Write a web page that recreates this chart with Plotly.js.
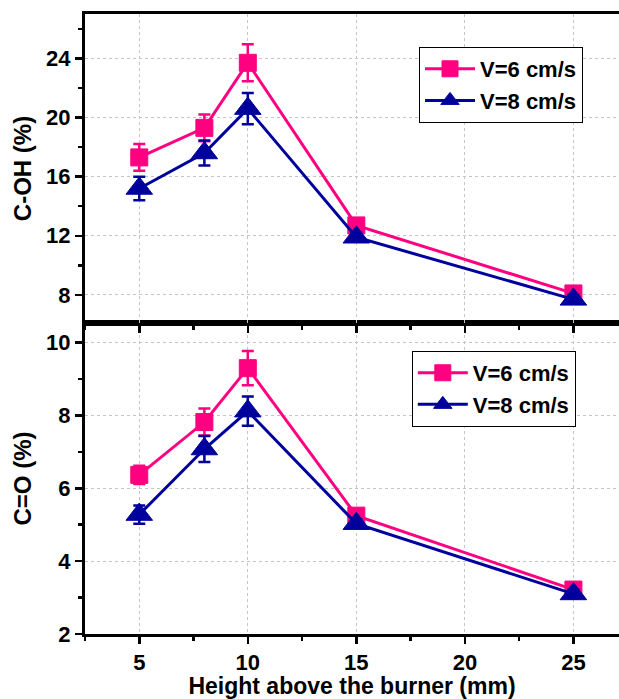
<!DOCTYPE html>
<html>
<head>
<meta charset="utf-8">
<script src="https://cdn.plot.ly/plotly-3.0.1.min.js"></script>
<style>html,body{margin:0;padding:0;background:#fff;}#chart{width:619px;height:699px;}</style>
</head>
<body>
<div id="chart"></div>
<script>
// Data
var heights = [5, 8, 10, 15, 25];
var cohV6 = [17.3, 19.3, 23.7, 12.7, 8.1];
var cohV6Err = [0.9, 0.9, 1.25, 0.35, 0.3];
var cohV8 = [15.2, 17.6, 20.6, 11.9, 7.7];
var cohV8Err = [0.8, 0.85, 1.05, 0.3, 0.3];
var coV6 = [6.37, 7.82, 9.30, 5.25, 3.22];
var coV6Err = [0.25, 0.37, 0.47, 0.15, 0.12];
var coV8 = [5.28, 7.08, 8.12, 5.03, 3.10];
var coV8Err = [0.25, 0.36, 0.40, 0.12, 0.12];
var seriesNames = ['V=6 cm/s', 'V=8 cm/s'];
var xTicks = [5, 10, 15, 20, 25];
var cohTicks = [8, 12, 16, 20, 24];
var coTicks = [2, 4, 6, 8, 10];

var PINK = '#FF0080', NAVY = '#00009C';

function tr(x, y, err, name, color, sym, size, xa, ya, leg) {
  return {
    x: x, y: y, name: name, type: 'scatter', mode: 'lines+markers',
    xaxis: xa, yaxis: ya, legend: leg,
    line: {color: color, width: 3},
    marker: {symbol: sym, size: size, color: color, line: {color: color, width: 1}},
    error_y: {type: 'data', array: err, visible: true, color: color, thickness: 2.5, width: 6}
  };
}

var data = [
  tr(heights, cohV6, cohV6Err, seriesNames[0], PINK, 'square', 17, 'x2', 'y2', 'legend'),
  tr(heights, cohV8, cohV8Err, seriesNames[1], NAVY, 'triangle-up', 23, 'x2', 'y2', 'legend'),
  tr(heights, coV6, coV6Err, seriesNames[0], PINK, 'square', 17, 'x', 'y', 'legend2'),
  tr(heights, coV8, coV8Err, seriesNames[1], NAVY, 'triangle-up', 23, 'x', 'y', 'legend2')
];

var split = 0.5016;
var FAM = 'Liberation Sans, Arial, sans-serif';
var tickFont = {family: FAM, size: 22, color: '#000', weight: 'bold'};
var xTitleFont = {family: FAM, size: 23, color: '#000', weight: 'bold'};
var yTitleFont = {family: FAM, size: 24, color: '#000', weight: 'bold'};
var legFont = {family: FAM, size: 22, color: '#000', weight: 'bold'};

function xax(extra) {
  var a = {
    range: [2.5, 27.1], tickvals: xTicks, ticks: 'outside', ticklen: 7, tickwidth: 2.5, tickcolor: '#000',
    showline: true, linewidth: 3, linecolor: '#000', mirror: true,
    showgrid: true, gridcolor: '#c4c4c4', gridwidth: 1, griddash: 'dot', zeroline: false,
    tickfont: tickFont, automargin: false,
    minor: {dtick: 2.5, tick0: 0, ticks: 'outside', ticklen: 4, tickwidth: 2.5, tickcolor: '#000', showgrid: false}
  };
  for (var k in extra) a[k] = extra[k];
  return a;
}
function yax(extra) {
  var a = {
    ticks: 'outside', ticklen: 7, tickwidth: 2.5, tickcolor: '#000',
    showline: true, linewidth: 3, linecolor: '#000', mirror: false,
    showgrid: true, gridcolor: '#c4c4c4', gridwidth: 1, griddash: 'dot', zeroline: false,
    tickfont: tickFont, automargin: false
  };
  for (var k in extra) a[k] = extra[k];
  return a;
}

var layout = {
  width: 619, height: 699,
  margin: {l: 85, r: 0, t: 14, b: 65},
  paper_bgcolor: '#fff', plot_bgcolor: '#fff',
  font: {family: FAM, color: '#000', weight: 'bold'},
  showlegend: true,
  xaxis: xax({anchor: 'y', domain: [0, 1],
    title: {text: 'Height above the burner (mm)', font: xTitleFont, standoff: 6}}),
  yaxis: yax({anchor: 'x', domain: [0, split], range: [2, 10.54], tickvals: coTicks,
    minor: {dtick: 1, tick0: 0, ticks: 'outside', ticklen: 4, tickwidth: 2.5, tickcolor: '#000', showgrid: false},
    title: {text: 'C=O (%)', font: yTitleFont, standoff: 8}}),
  xaxis2: xax({anchor: 'y2', domain: [0, 1], matches: 'x', showticklabels: false}),
  yaxis2: yax({anchor: 'x2', domain: [split, 1], range: [6.1, 27.0], tickvals: cohTicks,
    minor: {dtick: 2, tick0: 0, ticks: 'outside', ticklen: 4, tickwidth: 2.5, tickcolor: '#000', showgrid: false},
    title: {text: 'C-OH (%)', font: yTitleFont, standoff: 8}}),
  legend: {x: 0.6255, y: 0.9468, xanchor: 'left', yanchor: 'top', bgcolor: '#fff',
    bordercolor: '#000', borderwidth: 1, font: legFont, itemwidth: 50, tracegroupgap: 0},
  legend2: {x: 0.612, y: 0.4565, xanchor: 'left', yanchor: 'top', bgcolor: '#fff',
    bordercolor: '#000', borderwidth: 1, font: legFont, itemwidth: 50, tracegroupgap: 0}
};

Plotly.newPlot('chart', data, layout, {displayModeBar: false, staticPlot: true});
</script>
</body>
</html>
